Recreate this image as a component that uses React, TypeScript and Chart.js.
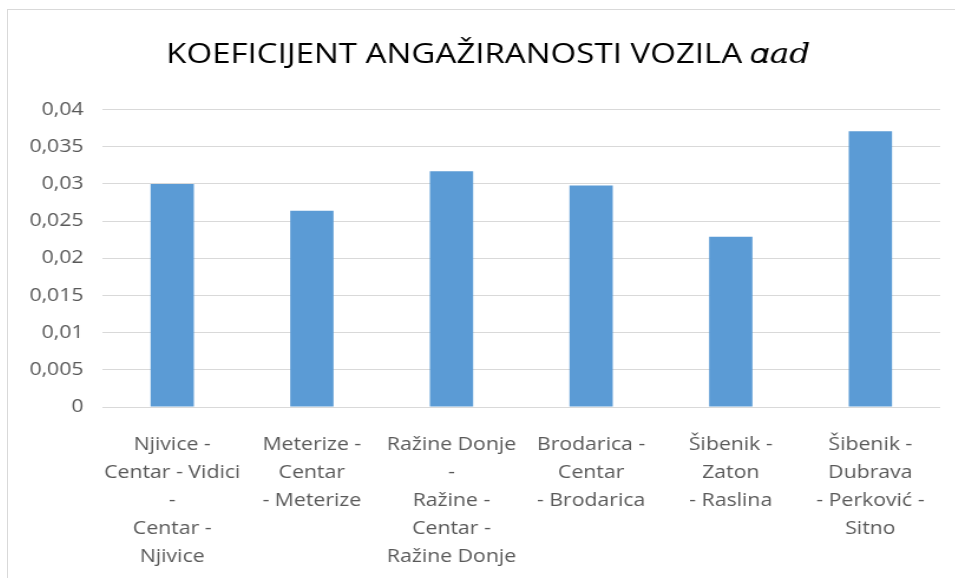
import React, { useEffect, useRef } from "react";
import { Chart, registerables } from "chart.js";

Chart.register(...registerables);

const titleText = "KOEFICIJENT ANGAŽIRANOSTI VOZILA 𝛼𝑎𝑑";

const categories: string[][] = [
  ["Njivice -", "Centar - Vidici", "-", "Centar -", "Njivice"],
  ["Meterize -", "Centar", "- Meterize"],
  ["Ražine Donje", "-", "Ražine -", "Centar -", "Ražine Donje"],
  ["Brodarica -", "Centar", "- Brodarica"],
  ["Šibenik -", "Zaton", "- Raslina"],
  ["Šibenik -", "Dubrava", "- Perković -", "Sitno"],
];

const values: number[] = [0.03, 0.0264, 0.0317, 0.0298, 0.0229, 0.0371];

const yTickLabels: string[] = [
  "0",
  "0,005",
  "0,01",
  "0,015",
  "0,02",
  "0,025",
  "0,03",
  "0,035",
  "0,04",
];

const FONT = "'Open Sans', 'Noto Sans', sans-serif";
const TITLE_FONT = "'Open Sans', 'DejaVu Serif', serif";
const STRETCH = 1.18;
const TITLE_SHIFT = 12;

const titleShiftPlugin = {
  id: "titleShift",
  afterLayout(chart: any) {
    const t = chart.titleBlock;
    if (t) {
      t.left += TITLE_SHIFT;
      t.right += TITLE_SHIFT;
    }
  },
};

export default function App() {
  const ref = useRef<HTMLCanvasElement | null>(null);

  useEffect(() => {
    if (!ref.current) return;
    const chart = new Chart(ref.current, {
      type: "bar",
      data: {
        labels: categories,
        datasets: [
          {
            data: values,
            backgroundColor: "#5b9bd5",
            borderWidth: 0,
            barPercentage: 0.31,
            categoryPercentage: 1,
          },
        ],
      },
      plugins: [titleShiftPlugin],
      options: {
        animation: false,
        responsive: false,
        devicePixelRatio: 1,
        layout: { padding: { left: 0, right: 13, top: 0, bottom: 9 } },
        plugins: {
          legend: { display: false },
          tooltip: { enabled: false },
          title: {
            display: true,
            text: titleText,
            color: "#000000",
            font: { family: TITLE_FONT, size: 28, weight: "normal", lineHeight: 1.2 },
            padding: { top: 28, bottom: 38 },
          },
        },
        scales: {
          x: {
            afterFit: (s: any) => {
              s.height = 162;
            },
            grid: { display: false },
            border: { display: false },
            ticks: {
              color: "#595959",
              font: { family: FONT, size: 18, lineHeight: 28 / 18 },
              padding: 16,
              maxRotation: 0,
              minRotation: 0,
              autoSkip: false,
            },
          },
          y: {
            min: 0,
            max: 0.04,
            afterFit: (s: any) => {
              s.width = 80;
            },
            grid: { color: "#d9d9d9", lineWidth: 1, drawTicks: false },
            border: { display: false },
            ticks: {
              stepSize: 0.005,
              color: "#595959",
              font: { family: FONT, size: 18 },
              padding: 16,
              callback: (_v: any, i: number) => yTickLabels[i],
            },
          },
        },
      },
    });
    return () => chart.destroy();
  }, []);

  return (
    <div
      style={{
        position: "absolute",
        left: 7,
        top: 9,
        width: 948,
        height: 569,
        boxSizing: "border-box",
        borderLeft: "1px solid #d9d9d9",
        borderTop: "1px solid #d9d9d9",
        background: "#ffffff",
        overflow: "hidden",
      }}
    >
      <div style={{ transform: `scaleX(${STRETCH})`, transformOrigin: "left top", width: 803 }}>
        <canvas ref={ref} width={803} height={568} style={{ display: "block" }} />
      </div>
    </div>
  );
}
